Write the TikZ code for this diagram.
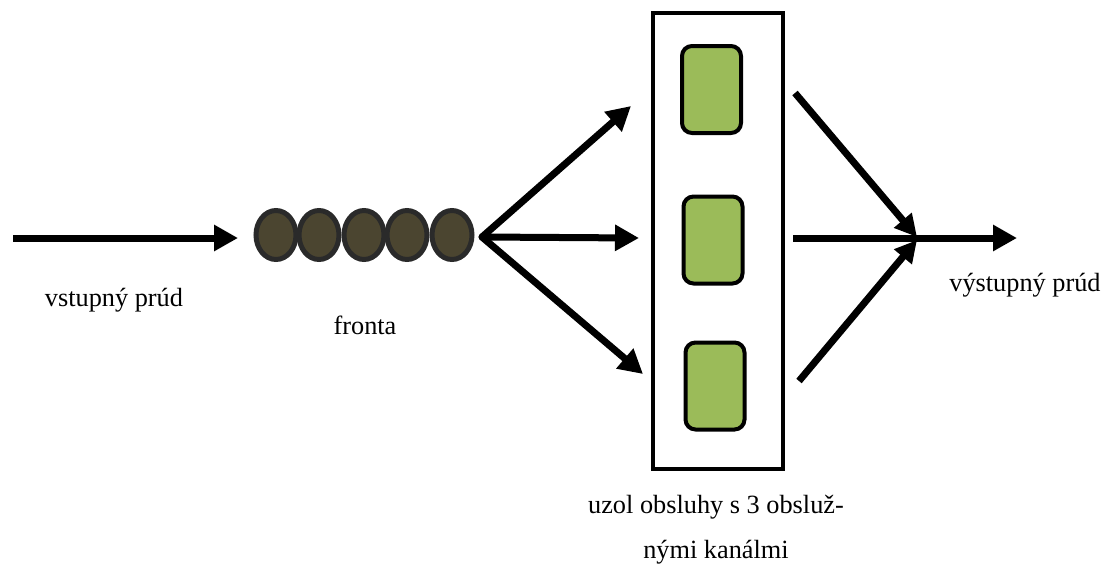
\documentclass[tikz,border=0pt]{standalone}
\usepackage{fontspec}
\setmainfont{Liberation Serif}
\usetikzlibrary{arrows.meta,shapes.geometric}
\definecolor{qfill}{HTML}{4B4530}
\definecolor{qdraw}{HTML}{2A2A2A}
\definecolor{gfill}{HTML}{9BBB59}
\tikzset{
  flow/.style={line width=7pt,-{Triangle[length=24pt,width=25pt]}},
  flowsmall/.style={line width=7pt,-{Triangle[length=22pt,width=22pt]}},
  qitem/.style={ellipse,draw=qdraw,fill=qfill,line width=5pt,minimum width=40pt,minimum height=49pt,inner sep=0pt},
  server/.style={rectangle,rounded corners=10pt,draw=black,fill=gfill,line width=4pt,minimum width=59pt,minimum height=87pt,inner sep=0pt},
  lbl/.style={font=\fontsize{26.3}{45}\selectfont,align=center,inner sep=0pt}
}
\begin{document}
\begin{tikzpicture}[x=1pt,y=-1pt]
\useasboundingbox (0,0) rectangle (1106,566);
% input
\coordinate (inS) at (13,238);
\coordinate (inE) at (238,238);
\draw[flow] (inS) -- (inE);
\node[lbl] (inL) at (114,300) {vstupný prúd};
% queue
\node[qitem] (q1) at (276,235) {};
\node[qitem] (q2) at (319,235) {};
\node[qitem] (q3) at (364,235) {};
\node[qitem] (q4) at (407,235) {};
\node[qitem] (q5) at (452,235) {};
\node[lbl] (qL) at (365,325) {fronta};
% service node
\node[draw=black,line width=4pt,minimum width=130pt,minimum height=456pt,inner sep=0pt] (box) at (718,241) {};
\node[server] (s1) at (711.5,89.5) {};
\node[server] (s2) at (713,240) {};
\node[server] (s3) at (715,386) {};
\node[lbl] (boxL) at (716,530) {uzol obsluhy s 3 obsluž-\\nými kanálmi};
% fan out
\coordinate (fo) at (482,237);
\coordinate (t1) at (631,106);
\coordinate (t2) at (639,238);
\coordinate (t3) at (643,374);
\draw[flow,line cap=round] (fo) -- (t1);
\draw[flow] (fo) -- (t2);
\draw[flow,line cap=round] (fo) -- (t3);
% fan in
\coordinate (o1) at (795,93);
\coordinate (o2) at (793,238);
\coordinate (o3) at (799,381);
\coordinate (m1) at (917,237);
\coordinate (m3) at (917,240);
\coordinate (outE) at (1017,238);
\draw[flowsmall] (o1) -- (m1);
\draw[flowsmall] (o3) -- (m3);
\draw[flow] (o2) -- (outE);
\node[lbl] (outL) at (1025,285) {výstupný prúd};
\end{tikzpicture}
\end{document}
